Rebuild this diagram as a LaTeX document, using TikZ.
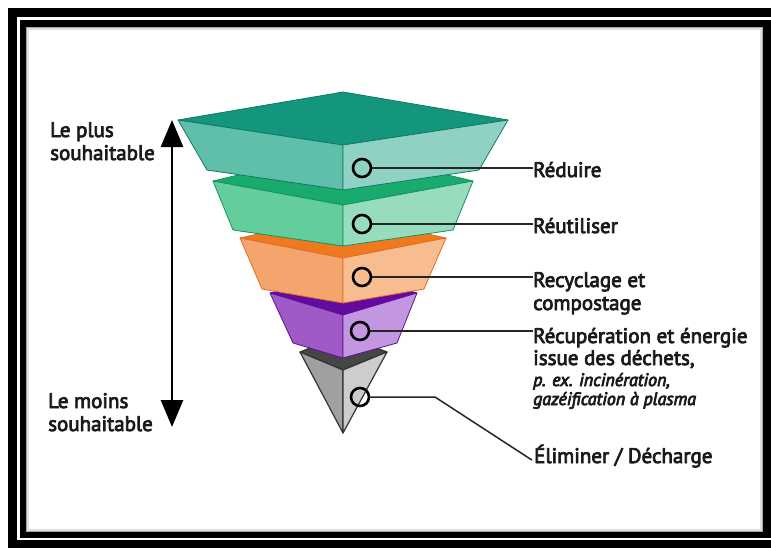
\documentclass[tikz,border=0pt]{standalone}
\usepackage{fontspec}
\setmainfont{PT Sans}
\usetikzlibrary{arrows.meta}

% stroke the glyph outlines as well as filling them, for a heavier label face
\newcommand\heavyon{\special{pdf:code 2 Tr 0.75 w}}
\newcommand\heavyoff{\special{pdf:code 0 Tr}}

\definecolor{labcol}{HTML}{1A1A1A}
% layer colours: top face, left face, right face, edge
\definecolor{tealtop}{HTML}{14967D}
\definecolor{tealleft}{HTML}{5FBFAA}
\definecolor{tealright}{HTML}{8FD2C4}
\definecolor{tealedge}{HTML}{0E7A66}
\definecolor{greentop}{HTML}{19AA6E}
\definecolor{greenleft}{HTML}{64CD9C}
\definecolor{greenright}{HTML}{97DDBD}
\definecolor{greenedge}{HTML}{14925E}
\definecolor{orangetop}{HTML}{F0781E}
\definecolor{orangeleft}{HTML}{F4A56E}
\definecolor{orangeright}{HTML}{F8BC91}
\definecolor{orangeedge}{HTML}{E06E1E}
\definecolor{purpletop}{HTML}{640AA0}
\definecolor{purpleleft}{HTML}{A05AC8}
\definecolor{purpleright}{HTML}{C396E1}
\definecolor{purpleedge}{HTML}{5A1090}
\definecolor{graytop}{HTML}{464646}
\definecolor{grayleft}{HTML}{A0A0A0}
\definecolor{grayright}{HTML}{CDCDCD}
\definecolor{grayedge}{HTML}{333333}

\tikzset{
  face/.style={line width=0.8pt, line join=round},
  ring/.style={circle, draw=black, line width=2.6pt, minimum size=18pt, inner sep=0pt},
  lead/.style={draw=black!85, line width=1.5pt},
  lab/.style={anchor=base west, inner sep=0pt, text=labcol,
    font=\fontsize{21}{23}\selectfont,
    execute at begin node=\heavyon, execute at end node=\heavyoff},
  labit/.style={lab, font=\fontsize{18}{20}\selectfont\itshape},
}

\begin{document}
\begin{tikzpicture}[x=1pt, y=-1pt]
\useasboundingbox (0,0) rectangle (771,547);
\begin{scope}
\clip (0,0) rectangle (771,547);

% double black frame
\fill[white] (0,0) rectangle (771,547);
\fill[black] (8,8) rectangle (780,560);
\fill[white] (17,17) rectangle (775,540);
\fill[black] (19.5,19.5) rectangle (775,538);
\fill[white] (26,27) rectangle (763,532);
\draw[black!35, line width=1pt] (26.5,27.5) rectangle (762.5,531.5);
\draw[black!12, line width=1.5pt] (28,29) rectangle (761,530);

% --- pyramid, drawn from the tip upwards ---
% Eliminer (gray)
\filldraw[face, draw=grayedge, fill=graytop, line width=1.2pt] (300,352) -- (343,335) -- (387,352) -- (343,370) -- cycle;
\filldraw[face, draw=grayedge, fill=grayleft, line width=1.2pt] (300,352) -- (343,370) -- (343,433) -- cycle;
\filldraw[face, draw=grayedge, fill=grayright, line width=1.2pt] (343,370) -- (387,352) -- (343,433) -- cycle;

% Recuperation (purple)
\filldraw[face, draw=purpleedge, fill=purpletop] (270,293) -- (343,272) -- (417,293) -- (343,315) -- cycle;
\filldraw[face, draw=purpleedge, fill=purpleleft] (270,293) -- (343,315) -- (343,358) -- (293,343) -- cycle;
\filldraw[face, draw=purpleedge, fill=purpleright] (343,315) -- (417,293) -- (397,343) -- (343,358) -- cycle;

% Recyclage (orange)
\filldraw[face, draw=orangeedge, fill=orangetop] (240,238) -- (343,215) -- (446,238) -- (343,258) -- cycle;
\filldraw[face, draw=orangeedge, fill=orangeleft] (240,238) -- (343,258) -- (343,303) -- (262,289) -- cycle;
\filldraw[face, draw=orangeedge, fill=orangeright] (343,258) -- (446,238) -- (424,289) -- (343,303) -- cycle;

% Reutiliser (green)
\filldraw[face, draw=greenedge, fill=greentop] (213,181) -- (343,150) -- (473,181) -- (343,205) -- cycle;
\filldraw[face, draw=greenedge, fill=greenleft] (213,181) -- (343,205) -- (343,246) -- (233,230) -- cycle;
\filldraw[face, draw=greenedge, fill=greenright] (343,205) -- (473,181) -- (453,230) -- (343,246) -- cycle;

% Reduire (teal)
\filldraw[face, draw=tealedge, fill=tealtop] (178,120) -- (343,92) -- (508,120) -- (343,145) -- cycle;
\filldraw[face, draw=tealedge, fill=tealleft] (178,120) -- (343,145) -- (343,190) -- (207,170) -- cycle;
\filldraw[face, draw=tealedge, fill=tealright] (343,145) -- (508,120) -- (479,170) -- (343,190) -- cycle;

% markers on the layers
\node[ring] (r1) at (362,168) {};
\node[ring] (r2) at (362,224) {};
\node[ring] (r3) at (362,277) {};
\node[ring] (r4) at (360,331) {};
\node[ring] (r5) at (360,397) {};

% labels on the right
\node[lab] (l1) at (533,177) {Réduire};
\node[lab] (l2) at (533,233) {Réutiliser};
\node[lab] (l3) at (533,287) {Recyclage et};
\node[lab] (l3b) at (533,310) {compostage};
\node[lab] (l4) at (533,343) {Récupération et énergie};
\node[lab] (l4b) at (533,365) {issue des déchets,};
\node[labit] (l4c) at (533,386) {p. ex. incinération,};
\node[labit] (l4d) at (533,405) {gazéification à plasma};
\node[lab] (l5) at (534,463) {Éliminer / Décharge};

% leader lines from each marker to its label
\coordinate (bend) at (435,397);
\draw[lead] (r1.east) -- (r1.east -| l1.west);
\draw[lead] (r2.east) -- (r2.east -| l2.west);
\draw[lead] (r3.east) -- (r3.east -| l3.west);
\draw[lead] (r4.east) -- (r4.east -| l4.west);
\draw[lead] (r5.east) -- (bend) -- ([xshift=-2pt, yshift=-4pt]l5.west);

% scale on the left
\node[lab] (up1) at (50,137) {Le plus};
\node[lab] (up2) at (50,160) {souhaitable};
\node[lab] (dn1) at (48,408) {Le moins};
\node[lab] (dn2) at (48,431) {souhaitable};
\coordinate (atop) at (172,120);
\coordinate (abot) at (172,427);
\draw[line width=2.6pt, {Triangle[length=27pt,width=22pt]}-{Triangle[length=27pt,width=22pt]}] (atop) -- (abot);
\end{scope}
\end{tikzpicture}
\end{document}
